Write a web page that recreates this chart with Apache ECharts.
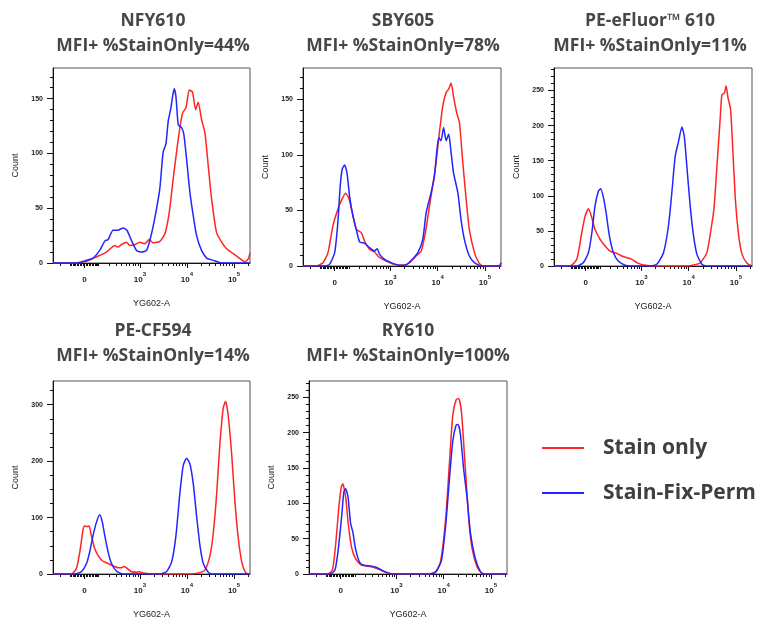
<!DOCTYPE html>
<html><head><meta charset="utf-8">
<script src="https://cdn.jsdelivr.net/npm/echarts@6/dist/echarts.min.js"></script>
<style>html,body{margin:0;padding:0;background:#fff}#c{width:760px;height:620px}</style>
</head><body><div id="c"></div>
<script>
// ---- text ----
const panelTitles = ['NFY610', 'SBY605', 'PE-eFluor\u2122 610', 'PE-CF594', 'RY610'];
const panelSubtitles = ['MFI+ %StainOnly=44%', 'MFI+ %StainOnly=78%', 'MFI+ %StainOnly=11%', 'MFI+ %StainOnly=14%', 'MFI+ %StainOnly=100%'];
const seriesNames = ['Stain only', 'Stain-Fix-Perm'];
const xAxisName = 'YG602-A';
const yAxisName = 'Count';

// ---- x axis (biexponential display scale, 0..100 of axis width) ----
const xTickValues = [0, 1e3, 1e4, 1e5];
const xTickExponents = ['', '3', '4', '5'];
const xMinorValues = [-200, -100, -90, -80, -70, -60, -50, -40, -30, -20, -10,
  10, 20, 30, 40, 50, 60, 70, 80, 90, 100, 200, 300, 400, 500, 600, 700, 800, 900,
  2000, 3000, 4000, 5000, 6000, 7000, 8000, 9000,
  20000, 30000, 40000, 50000, 60000, 70000, 80000, 90000, 200000];

// ---- y axis ticks per panel ----
const yMaxes = [178, 178, 282, 342, 273];
const yTickLabels = [[0, 50, 100, 150], [0, 50, 100, 150], [0, 50, 100, 150, 200, 250], [0, 100, 200, 300], [0, 50, 100, 150, 200, 250]];
const yMinorSteps = [10, 10, 10, 25, 10];

// ---- data: [display x (0-100), count] ----
const nfyStain = [[0,0],[11.9,0],[16.9,1.5],[22,5.5],[27.1,10],[31.4,16],[33,14.5],[34.7,16.7],[37.3,19],[39,16],[41.5,16.7],[44,19],[46.6,17.6],[48.8,21.5],[50.8,18.5],[54.2,19.7],[56.8,26.7],[59,46],[61,76.7],[62.7,101],[64.4,123.6],[65.8,137],[67.5,141.8],[69.2,158],[70.8,156],[72.4,140],[73.7,146.7],[75.4,131],[77.1,119],[78.8,88.8],[80.5,58.5],[83,28],[85.6,19],[88.1,13],[91.5,8.5],[94.9,4],[97.5,1],[99.2,4],[100,9.4]];
const nfySfp = [[0,0],[11.9,0],[15.3,1.5],[20.3,4.5],[23.7,11.5],[26.3,20],[28,21.5],[30.5,30],[33,30],[35.6,32],[37.6,29.7],[39.8,20.6],[42.4,11.5],[45,10],[47.5,11.5],[50,26.7],[52.5,49],[54.2,67.6],[55.9,101],[57.3,108.5],[58.5,129.7],[59.7,140],[60.7,152],[61.5,159],[62.4,152],[63.6,126],[65.3,123.6],[66.4,117.6],[67.8,95],[69.5,64.5],[71.2,43],[72.9,25],[75.4,11.5],[78,4.5],[81.4,2.4],[84.7,0.3],[86,0],[100,0]];
const sbyStain = [[0,0],[6.7,0],[10.1,3],[12.6,12],[15.1,36],[17.6,51],[19.3,58.5],[21.5,65.5],[23.2,60.6],[24.9,48],[26.9,33],[29.4,30],[31.1,22.5],[33.6,15],[36.1,12.6],[38.7,7.5],[42,4.5],[46.2,1.5],[50.4,0.6],[53.8,3],[57.1,9],[59.7,13.5],[61.8,30],[63.9,54],[65.5,72],[67.2,93],[68.9,120],[70.6,144],[72.3,156],[73.6,159],[74.8,164.6],[76.1,151.6],[77.6,138],[79,129],[80.7,93],[82.4,60],[84,33],[86.6,12],[89,2.4],[90.8,0],[100,0]];
const sbySfp = [[0,0],[10.9,0],[13.4,1.5],[16,12],[17.6,39],[18.8,72],[19.8,87],[21,90.7],[22.2,84],[23.5,63],[25.2,45],[26.9,33],[28.6,21.6],[31.1,20.4],[33.6,16.5],[36.1,13.5],[37.5,15.6],[38.7,10.5],[41.2,6],[44.5,3],[48.7,0.6],[52.1,0.9],[55.5,6.6],[58,12],[60.5,24],[62.2,48],[64.7,66],[66.4,81],[67.6,103.6],[68.6,115.5],[69.7,112.6],[71,124.6],[72.3,112.6],[73.6,118.6],[74.8,102],[76,84],[78.2,66],[79.8,42],[81.5,24],[84,9],[86.6,3],[89,0.6],[90.5,0],[99,0],[100,3]];
const efStain = [[0,0],[8.1,0],[11.5,9.5],[14,47],[15.7,71],[17.4,81.4],[19.1,68.7],[20.7,52],[23.3,38],[25.8,28.4],[28.3,21.3],[31.7,18],[34.2,14.2],[36.8,11.8],[39.3,9.5],[41.8,4.7],[45.2,1.4],[51.9,0],[67.1,0],[70.5,1.4],[73.9,4.7],[77.2,19],[79.8,61.5],[80.9,85],[82.3,142],[84,213],[84.8,244],[86,246],[86.9,256.6],[87.9,239],[89.1,225],[89.9,189],[91.6,94.7],[93.3,42.6],[95,16.6],[97.5,3.8],[100,0]];
const efSfp = [[0,0],[11.5,0],[14.8,4.7],[17.4,19],[19.1,47],[20.7,85],[22.4,106.5],[23.6,110],[25,97],[26.3,76],[28,42.6],[30,19],[32.5,7],[35.9,1],[38.4,0],[48.6,0],[51.9,2.4],[55.3,19],[57.8,57],[59.5,104],[61.2,156],[62.9,177.5],[64.6,198],[65.8,184.7],[67.1,142],[68.8,85],[70.5,42.6],[72.2,16.6],[74.7,2.4],[77.2,0],[100,0]];
const cfStain = [[0,0],[9.3,0],[11.9,10],[13.6,38.8],[15.3,79],[16.1,85],[17.3,84],[18.3,85],[19.5,67.7],[21.2,44.6],[23.4,30],[25.4,22.6],[28,18.5],[30.5,14.5],[33,11],[34.7,11],[35.9,13.3],[37.3,11],[39.8,4],[42.4,3],[43.7,4],[46.6,1.2],[50.8,0],[69.5,0],[73.7,1.7],[77.1,7],[79.7,33],[81.4,73.5],[83.1,143],[84.7,230],[86.4,294],[87.6,306],[88.9,282],[90.7,212],[92.4,125.6],[94.1,62],[95.8,21.4],[97.5,4],[99.2,0],[100,0]];
const cfSfp = [[0,0],[11,0],[14.4,4],[17,18.5],[18.6,38.8],[20.3,67.7],[22,91],[23.7,105],[25.1,91],[26.3,67.7],[28,38.8],[29.7,18.5],[32.2,5.2],[35.6,0],[54.2,0],[57.6,4],[60.2,21],[62.4,67.7],[64.4,143],[66.1,192],[67.8,205],[69.5,195],[71.2,160],[72.9,102.5],[74.6,50.4],[76.3,18.5],[78.8,3],[80.5,0],[100,0]];
const ryStain = [[0,0],[9.2,0],[11.8,5.5],[13.4,40],[15.1,95],[16.3,123],[17.1,127.6],[18.5,109],[19.8,72],[21.5,37.8],[23.5,21.7],[26,13.4],[28.6,11.5],[31.9,10],[35.3,6.5],[38.7,2.3],[42,0],[60.5,0],[63.9,3.2],[66.4,17],[69,77],[71,160],[72.6,224.4],[74.3,246.5],[75.6,248.4],[77,229],[78.7,160],[80.7,77],[82.4,35.5],[84.9,10],[87.4,1],[89,0],[100,0]];
const rySfp = [[0,0],[10.4,0],[13.1,5.5],[14.8,35.5],[16.5,81.6],[17.6,116],[18.5,120.7],[19.7,109],[21,72],[22.2,58.5],[23.5,35.5],[25.5,17],[27.7,12.4],[31.1,11.5],[34.5,8.8],[37.8,4.1],[41.2,0.5],[42.9,0],[61.3,0],[64.2,3.2],[66.9,19.4],[69,68],[71,137],[72.6,187.6],[74.3,210.6],[75.3,211.5],[76.5,196.8],[78.2,146],[79.8,109],[81.5,58.5],[84,21.7],[86.6,3.2],[88.2,0],[100,0]];

const stainData = [nfyStain, sbyStain, efStain, cfStain, ryStain];
const sfpData = [nfySfp, sbySfp, efSfp, cfSfp, rySfp];

// ---- layout / style ----
const layout = [
  {left: 53, top: 68, width: 197, height: 195, tx: 153, ty: 21},
  {left: 303, top: 68, width: 198, height: 198, tx: 403, ty: 21},
  {left: 554, top: 68, width: 198, height: 198, tx: 650, ty: 21},
  {left: 53, top: 381, width: 197, height: 196, tx: 153, ty: 331},
  {left: 309, top: 381, width: 198, height: 196, tx: 408, ty: 331}
];
const RED = '#ff2424', BLUE = '#2424ff';
const TITLE_FONT = 'bold 17.5px "Open Sans", "Noto Sans", sans-serif';

function biex(v) { return 16 + 10.38 * Math.asinh(v / 133.5); }
const xMajorPos = xTickValues.map(biex);
const xMinorPos = xMinorValues.map(biex);

const grid = [], xAxis = [], yAxis = [], series = [], graphic = [];
layout.forEach((L, i) => {
  grid.push({left: L.left, top: L.top, width: L.width, height: L.height, show: true,
    borderColor: '#555', borderWidth: 1, backgroundColor: 'transparent'});
  // major x
  xAxis.push({type: 'value', gridIndex: i, min: 0, max: 100, position: 'bottom',
    name: xAxisName, nameLocation: 'middle', nameGap: 36,
    nameTextStyle: {fontSize: 9, color: '#222', fontFamily: 'Liberation Sans, Arial, sans-serif'},
    axisLine: {show: true, onZero: false, lineStyle: {color: '#111', width: 1}},
    axisTick: {show: true, length: 5, customValues: xMajorPos, lineStyle: {color: '#111'}},
    axisLabel: {show: true, margin: 8, customValues: xMajorPos,
      formatter: function (v) {
        let k = 0, d = 1e9;
        xMajorPos.forEach((p, j) => { if (Math.abs(p - v) < d) { d = Math.abs(p - v); k = j; } });
        return xTickExponents[k] === '' ? '{b|0}' : '{b|10}{s|' + xTickExponents[k] + '}';
      },
      rich: {
        b: {fontSize: 8, fontWeight: 'bold', color: '#222', lineHeight: 13, verticalAlign: 'bottom', fontFamily: 'Liberation Sans, Arial, sans-serif'},
        s: {fontSize: 6, fontWeight: 'bold', color: '#222', lineHeight: 7, verticalAlign: 'top', fontFamily: 'Liberation Sans, Arial, sans-serif'}
      }},
    splitLine: {show: false}});
  // minor x
  xAxis.push({type: 'value', gridIndex: i, min: 0, max: 100, position: 'bottom',
    axisLine: {show: false, onZero: false},
    axisTick: {show: true, length: 3, customValues: xMinorPos, lineStyle: {color: '#111'}},
    axisLabel: {show: false}, splitLine: {show: false}});
  const yMinor = [];
  for (let v = yMinorSteps[i]; v < yMaxes[i]; v += yMinorSteps[i]) {
    if (yTickLabels[i].indexOf(v) < 0) yMinor.push(v);
  }
  yAxis.push({type: 'value', gridIndex: i, min: 0, max: yMaxes[i], position: 'left',
    name: yAxisName, nameLocation: 'middle', nameGap: 33, nameRotate: 90,
    nameTextStyle: {fontSize: 9, color: '#222', fontFamily: 'Liberation Sans, Arial, sans-serif'},
    axisLine: {show: true, onZero: false, lineStyle: {color: '#111', width: 1}},
    axisTick: {show: true, length: 6, customValues: yTickLabels[i], lineStyle: {color: '#111'}},
    axisLabel: {show: true, margin: 10, customValues: yTickLabels[i], fontSize: 7, fontWeight: 'bold',
      color: '#222', fontFamily: 'Liberation Sans, Arial, sans-serif'},
    splitLine: {show: false}});
  yAxis.push({type: 'value', gridIndex: i, min: 0, max: yMaxes[i], position: 'left',
    axisLine: {show: false, onZero: false},
    axisTick: {show: true, length: 3, customValues: yMinor, lineStyle: {color: '#111'}},
    axisLabel: {show: false}, splitLine: {show: false}});

  series.push({name: seriesNames[0], type: 'line', xAxisIndex: 2 * i, yAxisIndex: 2 * i,
    data: stainData[i], showSymbol: false, symbol: 'none', smooth: 0.2, color: RED,
    lineStyle: {color: RED, width: 1.5}, silent: true});
  series.push({name: seriesNames[1], type: 'line', xAxisIndex: 2 * i, yAxisIndex: 2 * i,
    data: sfpData[i], showSymbol: false, symbol: 'none', smooth: 0.2, color: BLUE,
    lineStyle: {color: BLUE, width: 1.5}, silent: true});

  graphic.push({type: 'text', x: L.tx, y: L.ty, style: {text: panelTitles[i], x: 0, y: 0,
    align: 'center', verticalAlign: 'middle', font: TITLE_FONT, fill: '#474747'}});
  graphic.push({type: 'text', x: L.tx, y: L.ty + 25, style: {text: panelSubtitles[i], x: 0, y: 0,
    align: 'center', verticalAlign: 'middle', font: TITLE_FONT, fill: '#474747'}});
});

const chart = echarts.init(document.getElementById('c'), null, {renderer: 'canvas'});
chart.setOption({
  animation: false,
  backgroundColor: '#fff',
  grid, xAxis, yAxis, series, graphic,
  legend: {
    orient: 'vertical', left: 542, top: 434, padding: 0, icon: 'rect',
    itemWidth: 42, itemHeight: 2, itemGap: 17,
    data: seriesNames, selectedMode: false,
    textStyle: {fontSize: 21, fontWeight: 'bold', color: '#3f3f3f', lineHeight: 28, padding: [0, 0, 0, 14],
      fontFamily: '"Open Sans", "Noto Sans", sans-serif'}
  }
});
</script></body></html>
